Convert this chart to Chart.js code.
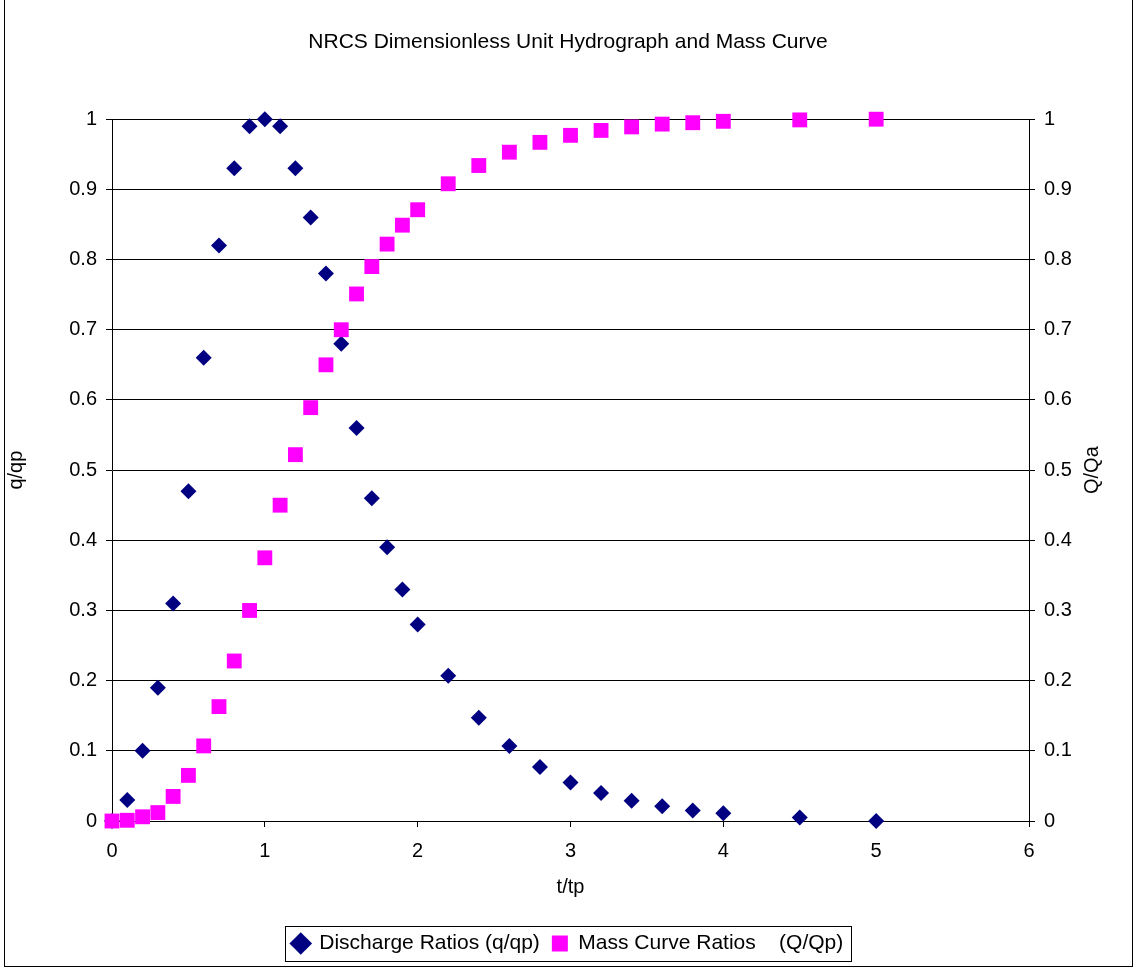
<!DOCTYPE html>
<html>
<head>
<meta charset="utf-8">
<script src="https://cdn.jsdelivr.net/npm/chart.js@4/dist/chart.umd.min.js"></script>
<style>
  html, body { margin: 0; padding: 0; background: #fff; }
  #wrap { position: relative; width: 1136px; height: 970px; }
  #frame { position: absolute; left: 4px; top: -1px; width: 1127px; height: 966px; border: 1px solid #000; pointer-events: none; }
</style>
</head>
<body>
<div id="wrap">
  <canvas id="hydro" width="1136" height="970"></canvas>
  <div id="frame"></div>
</div>
<script>
// t/tp values
const timeRatios = [0, 0.1, 0.2, 0.3, 0.4, 0.5, 0.6, 0.7, 0.8, 0.9, 1.0, 1.1, 1.2, 1.3, 1.4, 1.5, 1.6, 1.7, 1.8, 1.9, 2.0,
  2.2, 2.4, 2.6, 2.8, 3.0, 3.2, 3.4, 3.6, 3.8, 4.0, 4.5, 5.0];
// q/qp
const dischargeRatios = [0, 0.03, 0.10, 0.19, 0.31, 0.47, 0.66, 0.82, 0.93, 0.99, 1.00, 0.99, 0.93, 0.86, 0.78, 0.68, 0.56, 0.46, 0.39, 0.33, 0.28,
  0.207, 0.147, 0.107, 0.077, 0.055, 0.040, 0.029, 0.021, 0.015, 0.011, 0.005, 0.000];
// Qa/Q
const massRatios = [0, 0.001, 0.006, 0.012, 0.035, 0.065, 0.107, 0.163, 0.228, 0.300, 0.375, 0.450, 0.522, 0.589, 0.650, 0.700, 0.751, 0.790, 0.822, 0.849, 0.871,
  0.908, 0.934, 0.953, 0.967, 0.977, 0.984, 0.989, 0.993, 0.995, 0.997, 0.999, 1.000];

const FONT = 'Arial, "Liberation Sans", sans-serif';

function pairs(ys) {
    return timeRatios.map((t, i) => ({ x: t, y: ys[i] }));
}

const fmt = v => String(+Number(v).toFixed(1));

// box around the legend, like the spreadsheet one, plus the right axis title
const extras = {
    id: 'extras',
    afterDraw(chart) {
        const ctx = chart.ctx;
        const boxes = chart.legend && chart.legend.legendHitBoxes;
        if (boxes && boxes.length) {
            let l = Infinity, r = -Infinity, t = Infinity, b = -Infinity;
            boxes.forEach(h => {
                l = Math.min(l, h.left); r = Math.max(r, h.left + h.width);
                t = Math.min(t, h.top); b = Math.max(b, h.top + h.height);
            });
            ctx.save();
            ctx.strokeStyle = '#000';
            ctx.lineWidth = 1;
            ctx.strokeRect(Math.round(l - 8) + 0.5, Math.round(t - 7) + 0.5, Math.round(r - l + 16), Math.round(b - t + 14));
            ctx.restore();
        }
        const area = chart.chartArea;
        ctx.save();
        ctx.translate(1092, (area.top + area.bottom) / 2);
        ctx.rotate(-Math.PI / 2);
        ctx.fillStyle = '#000';
        ctx.font = '20px ' + FONT;
        ctx.textAlign = 'center';
        ctx.textBaseline = 'middle';
        ctx.fillText('Q/Qa', 0, 0);
        ctx.restore();
    }
};

const tickFont = { family: FONT, size: 20 };

const ctx = document.getElementById('hydro').getContext('2d');
const chart = new Chart(ctx, {
    type: 'scatter',
    data: {
        datasets: [{
            label: 'Discharge Ratios (q/qp)',
            data: pairs(dischargeRatios),
            yAxisID: 'y',
            order: 1,
            pointStyle: 'rectRot',
            pointRadius: 8,
            pointHoverRadius: 8,
            backgroundColor: '#000080',
            borderColor: '#000080',
            borderWidth: 0,
            clip: false
        }, {
            label: 'Mass Curve Ratios    (Q/Qp)',
            data: pairs(massRatios),
            yAxisID: 'y2',
            order: 0,
            pointStyle: 'rect',
            pointRadius: 10.5,
            pointHoverRadius: 10.5,
            backgroundColor: '#FF00FF',
            borderColor: '#FF00FF',
            borderWidth: 0,
            clip: false
        }]
    },
    options: {
        responsive: false,
        animation: false,
        layout: { padding: { left: 0, right: 0, top: 0, bottom: 6 } },
        plugins: {
            title: {
                display: true,
                text: 'NRCS Dimensionless Unit Hydrograph and Mass Curve',
                color: '#000',
                font: { family: FONT, size: 21, weight: 'normal' },
                padding: { top: 30, bottom: 64 }
            },
            legend: {
                position: 'bottom',
                labels: {
                    usePointStyle: true,
                    color: '#000',
                    font: { family: FONT, size: 21 },
                    boxWidth: 16,
                    boxHeight: 16,
                    padding: 12,
                    sort: (a, b) => a.datasetIndex - b.datasetIndex
                }
            },
            tooltip: { enabled: false }
        },
        scales: {
            x: {
                type: 'linear',
                min: 0,
                max: 6,
                ticks: { stepSize: 1, color: '#000', font: tickFont, padding: 12, callback: fmt },
                grid: { drawOnChartArea: false, color: '#000', tickLength: 6 },
                border: { color: '#000' },
                title: { display: true, text: 't/tp', color: '#000', font: tickFont, padding: { top: 4, bottom: 22 } },
                afterFit(scale) { scale.height = 100; }
            },
            y: {
                position: 'left',
                min: 0,
                max: 1,
                ticks: { stepSize: 0.1, color: '#000', font: tickFont, padding: 9, callback: fmt },
                grid: { color: '#000', tickLength: 6 },
                border: { color: '#000' },
                title: { display: true, text: 'q/qp', color: '#000', font: tickFont },
                afterFit(scale) { scale.width = 112; }
            },
            y2: {
                position: 'right',
                min: 0,
                max: 1,
                ticks: { stepSize: 0.1, color: '#000', font: tickFont, padding: 9, callback: fmt },
                grid: { drawOnChartArea: false, color: '#000', tickLength: 6 },
                border: { color: '#000' },
                afterFit(scale) { scale.width = 107; }
            }
        }
    },
    plugins: [extras]
});
</script>
</body>
</html>
